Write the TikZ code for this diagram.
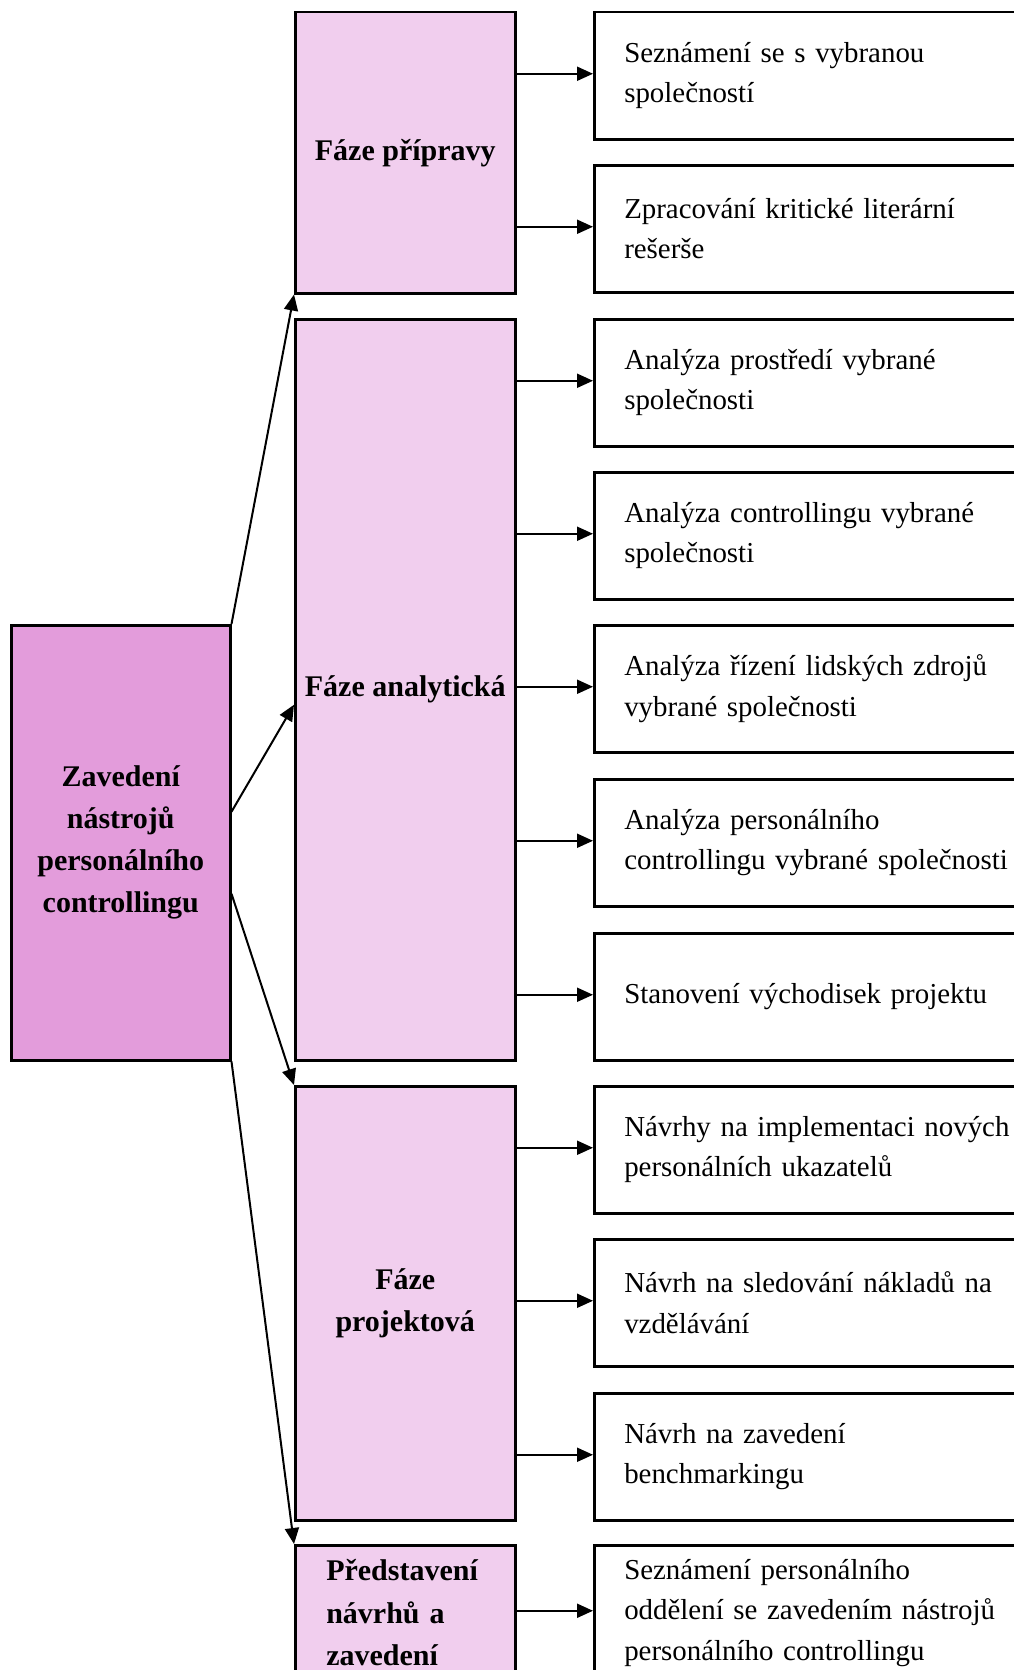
\documentclass[tikz,border=0pt]{standalone}
\usepackage{fontspec}
\setmainfont{Liberation Serif}
\newfontfamily\itemfont{Liberation Serif}[WordSpace=0.65]
\usetikzlibrary{arrows.meta,calc}
\definecolor{mainfill}{RGB}{227,156,219}
\definecolor{phasefill}{RGB}{241,206,238}
\tikzset{
 boxline/.style={draw=black,line width=2.5pt},
 mainbox/.style={boxline,fill=mainfill,anchor=north west,inner sep=0pt,align=center,font=\bfseries\fontsize{30}{42}\selectfont},
 phasebox/.style={boxline,fill=phasefill,anchor=north west,inner sep=0pt,minimum width=220pt,align=center,font=\bfseries\fontsize{30}{42.5}\selectfont},
 itembox/.style={boxline,fill=white,anchor=north west,minimum width=460pt,minimum height=127pt,text width=400pt,inner xsep=30pt,inner ysep=0pt,align=left,font=\itemfont\fontsize{28.9}{40.5}\selectfont},
 arr/.style={line width=2pt,-{Triangle[length=16pt,width=14pt]}},
}
\begin{document}
\begin{tikzpicture}[x=1pt,y=-1pt]
\path[use as bounding box,clip] (0,0) rectangle (1014,1670);
\fill[white] (0,0) rectangle (1014,1670);
% main box
\node[mainbox,minimum width=219pt,minimum height=435pt] (L) at (10,624) {Zavedení\\nástrojů\\personálního\\controllingu};
% phase boxes
\node[phasebox,minimum height=281pt] (P1) at (294,11) {Fáze přípravy};
\node[phasebox,minimum height=741pt] (P2) at (294,318) {Fáze analytická};
\node[phasebox,minimum height=434pt] (P3) at (294,1085) {Fáze\\projektová};
\node[phasebox,minimum height=135pt,text width=158pt,inner xsep=31pt,align=left] (P4) at (294,1544) {Představení\\návrhů a\\zavedení};
% item boxes
\node[itembox] (R1) at (593,11) {Seznámení se s vybranou\\společností};
\node[itembox] (R2) at (593,164) {Zpracování kritické literární\\rešerše};
\node[itembox] (R3) at (593,318) {Analýza prostředí vybrané\\společnosti};
\node[itembox] (R4) at (593,471) {Analýza controllingu vybrané\\společnosti};
\node[itembox] (R5) at (593,624) {Analýza řízení lidských zdrojů\\vybrané společnosti};
\node[itembox] (R6) at (593,778) {Analýza personálního\\controllingu vybrané společnosti};
\node[itembox] (R7) at (593,932) {Stanovení východisek projektu};
\node[itembox] (R8) at (593,1085) {Návrhy na implementaci nových\\personálních ukazatelů};
\node[itembox] (R9) at (593,1238) {Návrh na sledování nákladů na\\vzdělávání};
\node[itembox] (R10) at (593,1392) {Návrh na zavedení\\benchmarkingu};
\node[itembox,minimum height=135pt] (R11) at (593,1544) {Seznámení personálního\\oddělení se zavedením nástrojů\\personálního controllingu};
% arrows from main box
\draw[arr] (L.north east) -- (P1.south west);
\draw[arr] ([yshift=31pt]L.east) -- ([yshift=-15pt]P2.west);
\draw[arr] ([yshift=-51pt]L.east) -- (P3.north west);
\draw[arr] (L.south east) -- (P4.north west);
% arrows from phases to items
\foreach \p/\r in {P1/R1,P1/R2,P2/R3,P2/R4,P2/R5,P2/R6,P2/R7,P3/R8,P3/R9,P3/R10,P4/R11}
  \draw[arr] ([yshift=2pt]\p.east |- \r.west) -- ([yshift=2pt]\r.west);
\end{tikzpicture}
\end{document}
